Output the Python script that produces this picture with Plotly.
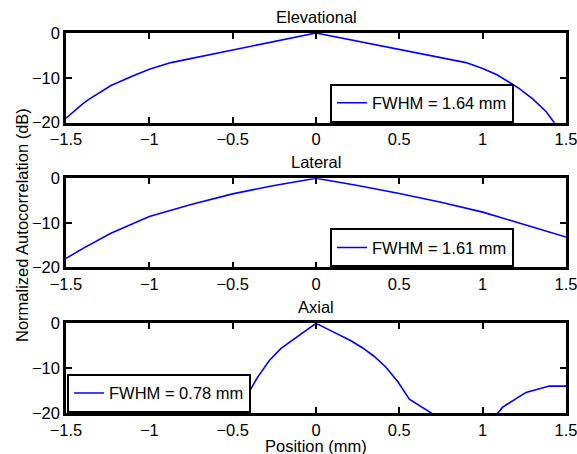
import plotly.graph_objects as go

# ---------------- data ----------------
titles = ["Elevational", "Lateral", "Axial"]
legend_labels = ["FWHM = 1.64 mm", "FWHM = 1.61 mm", "FWHM = 0.78 mm"]

elev_x = [-1.5, -1.45, -1.4, -1.363, -1.3, -1.23, -1.1, -1.0, -0.87, 0.0,
          0.9, 1.0, 1.086, 1.15, 1.216, 1.3, 1.38, 1.43, 1.46]
elev_y = [-19.0, -17.3, -15.8, -14.8, -13.3, -11.7, -9.6, -8.1, -6.6, 0.0,
          -6.6, -7.9, -9.3, -10.7, -12.3, -14.7, -17.5, -20.0, -21.5]

lat_x = [-1.5, -1.4, -1.234, -1.0, -0.75, -0.5, -0.25, 0.0,
         0.25, 0.5, 0.75, 1.0, 1.224, 1.5]
lat_y = [-18.0, -15.8, -12.4, -8.6, -5.9, -3.5, -1.6, 0.0,
         -1.6, -3.4, -5.4, -7.6, -10.1, -13.2]

ax_x = [-0.49, -0.42, -0.35, -0.28, -0.21, -0.14, -0.07, 0.0,
        0.07, 0.14, 0.21, 0.28, 0.35, 0.42, 0.49, 0.56, 0.70, 0.84, 0.98,
        1.12, 1.26, 1.40, 1.5]
ax_y = [-22.0, -16.5, -12.0, -8.3, -5.6, -3.8, -1.9, 0.0,
        -1.3, -2.6, -3.9, -5.5, -7.4, -9.8, -13.0, -16.9, -20.2, -26.0, -25.0,
        -18.7, -15.4, -14.0, -14.0]

x_tickvals = [-1.5, -1, -0.5, 0, 0.5, 1, 1.5]
x_ticktext = ["\u22121.5", "\u22121", "\u22120.5", "0", "0.5", "1", "1.5"]
y_tickvals = [-20, -10, 0]
y_ticktext = ["\u221220", "\u221210", "0"]

xlabel = "Position (mm)"
ylabel = "Normalized Autocorrelation (dB)"

# ---------------- figure ----------------
FONT = "Liberation Sans, Arial, sans-serif"
FS = 16.5
W, H = 577, 454
ML, MR, MT, MB = 66, 11, 33, 41
plot_h = H - MT - MB
plot_w = W - ML - MR


def py(p):
    return (H - MB - p) / plot_h


def px(p):
    return (p - ML) / plot_w


domains = [[py(122.7), 1.0], [py(267.3), py(178.3)], [0.0, py(323.3)]]
axis_tops = [33.3, 178.3, 323.3]
legend_pos = [(px(330), py(122.5)), (px(330), py(267.3)), (px(67), py(412.7))]

fig = go.Figure()
series = [(elev_x, elev_y), (lat_x, lat_y), (ax_x, ax_y)]
for i, (xs, ys) in enumerate(series):
    sfx = "" if i == 0 else str(i + 1)
    fig.add_trace(go.Scatter(
        x=xs, y=ys, mode="lines", name=legend_labels[i],
        line=dict(color="#0000FF", width=1.6),
        xaxis="x" + sfx, yaxis="y" + sfx,
        legend="legend" + sfx, showlegend=True,
    ))

layout = dict(
    width=W, height=H,
    margin=dict(l=ML, r=MR, t=MT, b=MB, pad=0, autoexpand=False),
    paper_bgcolor="white", plot_bgcolor="white",
    font=dict(family=FONT, size=FS, color="black"),
    annotations=[],
)

for i in range(3):
    sfx = "" if i == 0 else str(i + 1)
    axcommon = dict(
        showline=True, linecolor="black", linewidth=2.5, mirror="ticks",
        ticks="inside", ticklen=6, tickwidth=1.5, tickcolor="black",
        showgrid=False, zeroline=False, automargin=False,
        ticklabeloverflow="allow",
        tickfont=dict(family=FONT, size=FS, color="black"),
    )
    layout["xaxis" + sfx] = dict(
        axcommon, range=[-1.5, 1.5], tickmode="array",
        tickvals=x_tickvals, ticktext=x_ticktext,
        anchor="y" + sfx, domain=[0, 1],
    )
    layout["yaxis" + sfx] = dict(
        axcommon, range=[-20, 0], tickmode="array",
        tickvals=y_tickvals, ticktext=y_ticktext,
        anchor="x" + sfx, domain=domains[i],
    )
    lx, ly = legend_pos[i]
    layout["legend" + sfx] = dict(
        x=lx, y=ly, xanchor="left", yanchor="bottom",
        bgcolor="white", bordercolor="black", borderwidth=2,
        font=dict(family=FONT, size=FS, color="black"),
        itemwidth=30,
    )
    layout["annotations"].append(dict(
        text=titles[i], xref="paper", yref="paper",
        x=0.5, y=py(axis_tops[i] - 16.5), xanchor="center", yanchor="middle",
        showarrow=False, font=dict(family=FONT, size=FS, color="black"),
    ))

layout["annotations"].append(dict(
    text=xlabel, xref="paper", yref="paper", x=px(316), y=py(446),
    xanchor="center", yanchor="middle", showarrow=False,
    font=dict(family=FONT, size=FS, color="black"),
))
layout["annotations"].append(dict(
    text=ylabel, xref="paper", yref="paper", x=px(22), y=py(225),
    xanchor="center", yanchor="middle", textangle=-90, showarrow=False,
    font=dict(family=FONT, size=FS, color="black"),
))

fig.update_layout(**layout)
fig.write_html("out.html")
